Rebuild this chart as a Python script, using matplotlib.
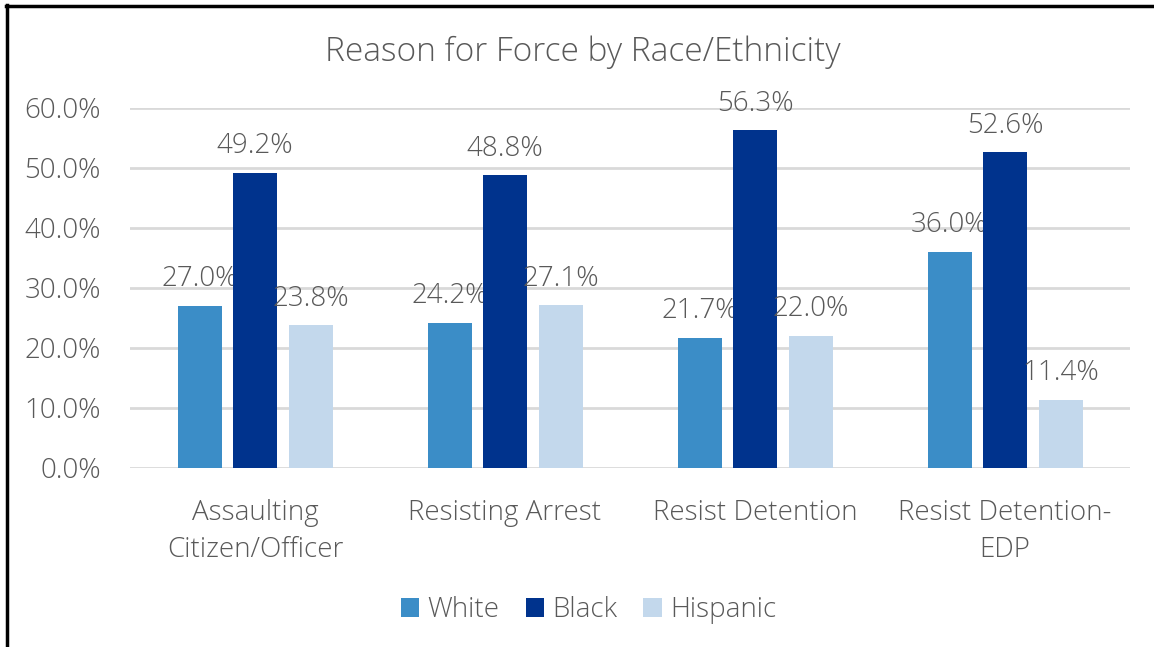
import matplotlib.pyplot as plt
from matplotlib.lines import Line2D
import numpy as np

categories = ['Assaulting\nCitizen/Officer', 'Resisting Arrest', 'Resist Detention', 'Resist Detention-\nEDP']
groups = ['White', 'Black', 'Hispanic']
white = [27.0, 24.2, 21.7, 36.0]
black = [49.2, 48.8, 56.3, 52.6]
hispanic = [23.8, 27.1, 22.0, 11.4]
colors = ['#3B8DC7', '#00338D', '#C3D8EC']

plt.rcParams['font.family'] = ['Open Sans', 'DejaVu Sans']
txt = '#595959'
fs = 20

fig = plt.figure(figsize=(11.54, 6.47), dpi=100)
ax = fig.add_axes([130/1154, (647-468)/647, 1000/1154, 360/647])

x = np.arange(len(categories))
w = 0.176
step = 0.222
for i, (name, vals) in enumerate(zip(groups, [white, black, hispanic])):
    pos = x + (i - 1) * step
    bars = ax.bar(pos, vals, w, color=colors[i], label=name, zorder=3)
    for b, v in zip(bars, vals):
        ax.annotate(f'{v:.1f}%', (b.get_x() + b.get_width()/2, v),
                    xytext=(0, 9), textcoords='offset points',
                    ha='center', va='bottom', fontsize=fs,
                    color=txt, fontweight='light')

ax.set_xlim(-0.5, 3.5)
ax.set_ylim(0, 60)
ax.set_yticks(np.arange(0, 61, 10))
ax.set_yticklabels([f'{t:.1f}%' for t in np.arange(0, 61, 10)])
ax.set_xticks(x)
ax.set_xticklabels(categories, linespacing=1.45)
ax.grid(axis='y', color='#D9D9D9', linewidth=2, zorder=0)
for s in ax.spines.values():
    s.set_visible(False)
ax.tick_params(length=0, labelsize=fs, labelcolor=txt)
ax.tick_params(axis='x', pad=22)
ax.tick_params(axis='y', pad=21)
for lab in ax.get_xticklabels() + ax.get_yticklabels():
    lab.set_fontweight('light')

fig.text(0.505, 1 - 52/647, 'Reason for Force by Race/Ethnicity', ha='center', va='center',
         fontsize=24, color=txt, fontweight='light')

leg = fig.legend(loc='center', bbox_to_anchor=(0.51, 1 - 610/647), ncol=3, frameon=False,
                 fontsize=fs, handlelength=0.65, handleheight=0.65, handletextpad=0.3,
                 columnspacing=0.95)
for t in leg.get_texts():
    t.set_color(txt)
    t.set_fontweight('light')

# outer frame on the left and top edges
fig.add_artist(Line2D([7/1154, 7/1154], [0, 1 - 5/647], color='black', lw=2.5, transform=fig.transFigure))
fig.add_artist(Line2D([6/1154, 1], [1 - 5.5/647, 1 - 5.5/647], color='black', lw=2.5, transform=fig.transFigure))

fig.savefig('out.png', dpi=100)
